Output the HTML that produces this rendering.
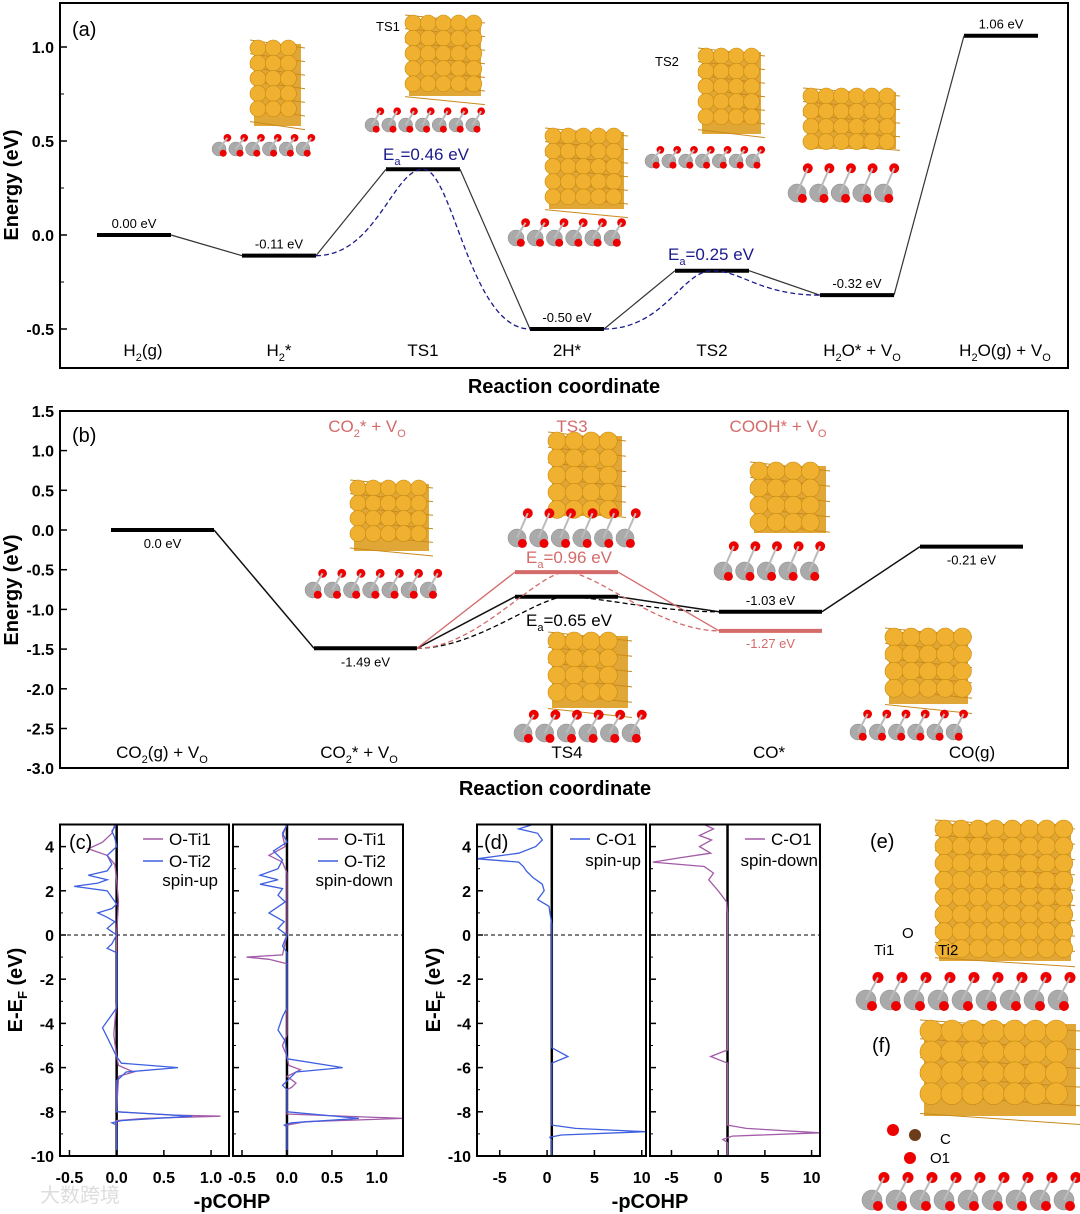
<!DOCTYPE html>
<html><head><meta charset="utf-8">
<style>
body{margin:0;background:#fff;}
svg{display:block;font-family:"Liberation Sans",Arial,sans-serif;}
.tk{font-size:16px;font-weight:bold;fill:#000;}
.lab{font-size:17px;fill:#000;}
.lv{font-size:13px;fill:#000;}
</style></head>
<body>
<svg id="fig" width="1080" height="1214" viewBox="0 0 1080 1214" xmlns="http://www.w3.org/2000/svg">
<g id="mol"></g>
<g id="pa"></g>
<g id="pb"></g>
<g id="pc"></g>
<text x="40" y="1202" font-size="20" fill="#ddd">大数跨境</text>
</svg>
<script>
const NS="http://www.w3.org/2000/svg";
function el(p,t,a,txt){const e=document.createElementNS(NS,t);for(const k in a)e.setAttribute(k,a[k]);if(txt!==undefined)e.textContent=txt;p.appendChild(e);return e;}

// ---------- Panel (a) data ----------
const aCats=["H2(g)","H2*","TS1","2H*","TS2","H2O* + VO","H2O(g) + VO"];
const aEnergies=[0.00,-0.11,0.35,-0.50,-0.19,-0.32,1.06];
const aLabels=["0.00 eV","-0.11 eV","","-0.50 eV","","-0.32 eV","1.06 eV"];
const aTicks=[1.0,0.5,0.0,-0.5];
// ---------- Panel (b) data ----------
const bCats=["CO2(g) + VO","CO2* + VO","TS4","CO*","CO(g)"];
const bEnergies=[0.0,-1.49,-0.84,-1.03,-0.21];
const bRedEnergies=[null,null,-0.53,-1.27,null];
const bLabels=["0.0 eV","-1.49 eV","","-1.03 eV","-0.21 eV"];
const bTicks=[1.5,1.0,0.5,0.0,-0.5,-1.0,-1.5,-2.0,-2.5,-3.0];
// ---------- Panel (c)/(d) COHP data [energy, -pCOHP] ----------
const cTicksY=[4,2,0,-2,-4,-6,-8,-10];
const c1Ti1=[[5,-0.02],[4.6,-0.05],[4.2,-0.15],[3.9,-0.3],[3.6,-0.1],[3.2,-0.02],[2.5,0],[1.5,0.02],[0,0],[-3,0],[-4.5,-0.03],[-5.5,0],[-5.9,0.02],[-6.2,0.18],[-6.4,0.02],[-8.0,0],[-8.15,0.6],[-8.2,1.1],[-8.3,0.3],[-8.4,0],[-10,0]];
const c1Ti2=[[5,0],[4.7,-0.05],[4.4,-0.02],[4,0],[3.6,-0.1],[3.2,-0.05],[2.9,-0.1],[2.7,-0.3],[2.5,-0.1],[2.35,-0.2],[2.2,-0.45],[2.0,-0.1],[1.7,-0.05],[1.4,0],[1.2,-0.05],[1.0,-0.2],[0.8,-0.1],[0.6,-0.02],[0.3,-0.1],[0,0],[-0.4,-0.05],[-0.6,-0.1],[-0.8,0],[-3.3,0],[-3.6,-0.05],[-4.2,-0.15],[-4.8,-0.08],[-5.5,0],[-5.8,0.05],[-6.0,0.65],[-6.2,0.1],[-6.6,0],[-8.0,0],[-8.2,0.8],[-8.4,0.05],[-8.5,-0.05],[-8.6,0],[-10,0]];
const c2Ti1=[[5,0],[4.5,-0.05],[4,-0.02],[3.6,-0.2],[3.3,-0.05],[2.8,0],[1.5,0],[0,0],[-0.9,-0.05],[-1.0,-0.45],[-1.1,-0.2],[-1.3,0],[-4.5,0],[-5.0,-0.05],[-5.5,0],[-5.9,0.02],[-6.1,0.15],[-6.4,0],[-6.7,0.1],[-6.9,0.05],[-7.0,0],[-8.1,0],[-8.3,1.29],[-8.45,0.2],[-8.6,0],[-10,0]];
const c2Ti2=[[5,0],[4.6,-0.05],[4.2,0],[3.8,-0.15],[3.4,-0.05],[3.0,-0.1],[2.7,-0.3],[2.5,-0.1],[2.3,-0.3],[2.1,-0.05],[1.8,-0.1],[1.5,-0.02],[1.0,-0.2],[0.6,-0.03],[0.3,-0.1],[0,0],[-0.5,-0.05],[-0.8,0],[-3.3,0],[-3.7,-0.05],[-4.3,-0.1],[-4.8,-0.02],[-5.6,0],[-6.0,0.62],[-6.2,0.1],[-6.6,0],[-6.8,-0.05],[-7.0,0],[-8.0,0],[-8.3,0.8],[-8.5,0.05],[-8.6,-0.03],[-8.7,0],[-10,0]];
const d1CO=[[5,-1.5],[4.8,-3],[4.6,-1],[4.3,-0.5],[4.0,-1.2],[3.7,-3],[3.45,-7.4],[3.3,-3],[3.1,-2.5],[2.9,-2.2],[2.6,-1.5],[2.3,-0.5],[2.0,-0.3],[1.6,-1],[1.3,0.2],[1.0,0.3],[0.5,0.5],[-5.1,0.5],[-5.5,2.2],[-5.8,0.5],[-8.6,0.5],[-8.75,3],[-8.9,10.4],[-9.05,1.5],[-9.15,0.3],[-9.3,0.5],[-10,0.5]];
const d2CO=[[5,-1.5],[4.8,-0.5],[4.5,-2],[4.3,-0.7],[4.0,-2],[3.7,-0.8],[3.5,-4],[3.3,-7],[3.1,-1.5],[2.8,-0.5],[2.5,-1.0],[2.0,0],[1.5,0.9],[1.0,1],[-5.2,1],[-5.5,-0.8],[-5.8,1],[-8.6,1],[-8.75,3],[-8.95,10.9],[-9.1,1.5],[-9.25,0.5],[-9.4,1],[-10,1]];

// ---------- Panel (a) ----------
const pa=document.getElementById('pa');
const aY=v=>235-188*v;
const aX0=[97,242,386,530,675,820,964], aW=74;
el(pa,'rect',{x:60,y:3,width:1008,height:365,fill:'none',stroke:'#000','stroke-width':2,});
aTicks.forEach(t=>{el(pa,'line',{x1:60,x2:67,y1:aY(t),y2:aY(t),stroke:'#000','stroke-width':1.5});
 el(pa,'text',{x:54,y:aY(t)+6,'text-anchor':'end',class:'tk',},t.toFixed(1));});
[0.75,0.25,-0.25].forEach(t=>el(pa,'line',{x1:60,x2:64,y1:aY(t),y2:aY(t),stroke:'#000'}));
el(pa,'text',{x:18,y:185,transform:'rotate(-90 18 185)','text-anchor':'middle','font-size':20,'font-weight':'bold',},'Energy (eV)');
el(pa,'text',{x:564,y:393,'text-anchor':'middle','font-size':20,'font-weight':'bold',},'Reaction coordinate');
el(pa,'text',{x:72,y:36,'font-size':20,},'(a)');
for(let i=0;i<aEnergies.length;i++){
 const y=aY(aEnergies[i]);
 const b=el(pa,'line',{x1:aX0[i],x2:aX0[i]+aW,y1:y,y2:y,stroke:'#000','stroke-width':4});
 
 
 if(i>0){el(pa,'line',{x1:aX0[i-1]+aW,y1:aY(aEnergies[i-1]),x2:aX0[i],y2:y,stroke:'#333','stroke-width':1.2});}
 if(aLabels[i]){const t=el(pa,'text',{x:aX0[i]+aW/2,y:y-7,'text-anchor':'middle',class:'lv'},aLabels[i]);
  
  }
}
function dashCurve(g,x1,y1,x2,y2,x3,y3,col){
 el(g,'path',{d:`M${x1},${y1} C${x1+60},${y1} ${x2-30},${y2} ${x2},${y2} C${x2+30},${y2} ${x3-60},${y3} ${x3},${y3}`,fill:'none',stroke:col,'stroke-width':1.3,'stroke-dasharray':'5,3'});
}
dashCurve(pa,aX0[1]+aW,aY(aEnergies[1]),aX0[2]+aW/2,aY(aEnergies[2]),aX0[3],aY(aEnergies[3]),'#1a1a8c');
dashCurve(pa,aX0[3]+aW,aY(aEnergies[3]),aX0[4]+aW/2,aY(aEnergies[4]),aX0[5],aY(aEnergies[5]),'#1a1a8c');
function eaText(g,x,y,val,col,size){const t=el(g,'text',{x:x,y:y,fill:col,'font-size':size,'text-anchor':'middle'});
 t.innerHTML=`E<tspan font-size="${size*0.65}" dy="5">a</tspan><tspan dy="-5">=${val} eV</tspan>`;return t;}
eaText(pa,426,160,'0.46','#1a1a8c',17);
eaText(pa,711,260,'0.25','#1a1a8c',17);
const aCatHTML=['H<tspan font-size="11" dy="5">2</tspan><tspan dy="-5">(g)</tspan>','H<tspan font-size="11" dy="5">2</tspan><tspan dy="-5">*</tspan>','TS1','2H*','TS2','H<tspan font-size="11" dy="5">2</tspan><tspan dy="-5">O* + V</tspan><tspan font-size="11" dy="5">O</tspan>','H<tspan font-size="11" dy="5">2</tspan><tspan dy="-5">O(g) + V</tspan><tspan font-size="11" dy="5">O</tspan>'];
const aCatX=[143,279,423,567,712,862,1005];
aCats.forEach((c,i)=>{const t=el(pa,'text',{x:aCatX[i],y:356,'text-anchor':'middle',class:'lab'});t.innerHTML=aCatHTML[i];
 });
el(pa,'text',{x:376,y:31,'font-size':13},'TS1');
el(pa,'text',{x:655,y:66,'font-size':13},'TS2');

// ---------- Panel (b) ----------
const pb=document.getElementById('pb');
const bY=v=>530-79.4*v;
const bX0=[111,314,515,719,920], bW=103;
el(pb,'rect',{x:60,y:411,width:1008,height:357,fill:'none',stroke:'#000','stroke-width':2,});
bTicks.forEach(t=>{el(pb,'line',{x1:60,x2:67,y1:bY(t),y2:bY(t),stroke:'#000','stroke-width':1.5});
 el(pb,'text',{x:54,y:bY(t)+6,'text-anchor':'end',class:'tk',},t.toFixed(1));});
el(pb,'text',{x:18,y:590,transform:'rotate(-90 18 590)','text-anchor':'middle','font-size':20,'font-weight':'bold',},'Energy (eV)');
el(pb,'text',{x:555,y:795,'text-anchor':'middle','font-size':20,'font-weight':'bold',},'Reaction coordinate');
el(pb,'text',{x:72,y:442,'font-size':20,},'(b)');
const red='#d46a6a';
for(let i=0;i<bEnergies.length;i++){
 const y=bY(bEnergies[i]);
 if(i>0) el(pb,'line',{x1:bX0[i-1]+bW,y1:bY(bEnergies[i-1]),x2:bX0[i],y2:y,stroke:'#111','stroke-width':1.5});
 if(bRedEnergies[i]!==null){
  const ry=bY(bRedEnergies[i]);
  const pr=bRedEnergies[i-1]!==null?bRedEnergies[i-1]:bEnergies[i-1];
  el(pb,'line',{x1:bX0[i-1]+bW,y1:bY(pr),x2:bX0[i],y2:ry,stroke:red,'stroke-width':1.3});
  const rb=el(pb,'line',{x1:bX0[i],x2:bX0[i]+bW,y1:ry,y2:ry,stroke:red,'stroke-width':4});
  
  
 }
 const b=el(pb,'line',{x1:bX0[i],x2:bX0[i]+bW,y1:y,y2:y,stroke:'#000','stroke-width':4});
 
 
 if(bLabels[i]){const t=el(pb,'text',{x:bX0[i]+bW/2,y:y+(i===3?-7:18),'text-anchor':'middle',class:'lv'},bLabels[i]);
  }
}
el(pb,'line',{x1:bX0[3]+bW,y1:bY(bRedEnergies[3]),x2:bX0[4],y2:bY(bEnergies[4]),stroke:'none'});
el(pb,'text',{x:bX0[3]+bW/2,y:bY(bRedEnergies[3])+17,'text-anchor':'middle',class:'lv',fill:red,style:'fill:'+red},'-1.27 eV');
dashCurve(pb,bX0[1]+bW,bY(bEnergies[1]),bX0[2]+bW/2,bY(bEnergies[2]),bX0[3],bY(bEnergies[3]),'#000');
dashCurve(pb,bX0[1]+bW,bY(bEnergies[1]),bX0[2]+bW/2,bY(bRedEnergies[2]),bX0[3],bY(bRedEnergies[3]),red);
eaText(pb,569,563,'0.96',red,17);
eaText(pb,569,626,'0.65','#000',17);
const bCatHTML=['CO<tspan font-size="11" dy="5">2</tspan><tspan dy="-5">(g) + V</tspan><tspan font-size="11" dy="5">O</tspan>','CO<tspan font-size="11" dy="5">2</tspan><tspan dy="-5">* + V</tspan><tspan font-size="11" dy="5">O</tspan>','TS4','CO*','CO(g)'];
const bCatX=[162,359,567,769,972];
bCats.forEach((c,i)=>{const t=el(pb,'text',{x:bCatX[i],y:758,'text-anchor':'middle',class:'lab'});t.innerHTML=bCatHTML[i];
 });
let t1=el(pb,'text',{x:367,y:432,'text-anchor':'middle','font-size':17,fill:red});t1.innerHTML='CO<tspan font-size="11" dy="5">2</tspan><tspan dy="-5">* + V</tspan><tspan font-size="11" dy="5">O</tspan>';
el(pb,'text',{x:572,y:432,'text-anchor':'middle','font-size':17,fill:red},'TS3');
let t2=el(pb,'text',{x:778,y:432,'text-anchor':'middle','font-size':17,fill:red});t2.innerHTML='COOH* + V<tspan font-size="11" dy="5">O</tspan>';

// ---------- COHP panels ----------
const pc=document.getElementById('pc');
const eY=e=>935-22.1*e;
function cohp(x0,x1,vmin,vmax,series,cols,ticksX,fmt,name,baseline){
 const sx=v=>x0+(v-vmin)/(vmax-vmin)*(x1-x0);
 const g=el(pc,'g',{});
 
 
 el(g,'line',{x1:x0,x2:x1,y1:eY(0),y2:eY(0),stroke:'#000','stroke-dasharray':'4,3','stroke-width':1});
 el(g,'line',{x1:sx(baseline),x2:sx(baseline),y1:eY(5),y2:eY(-10),stroke:'#000','stroke-width':2.5});
 series.forEach((s,k)=>{
  const p=el(g,'polyline',{points:s.map(d=>sx(d[1]).toFixed(1)+','+eY(d[0]).toFixed(1)).join(' '),fill:'none',stroke:cols[k],'stroke-width':1.3});
  
  
 });
 ticksX.forEach(t=>{el(g,'line',{x1:sx(t),x2:sx(t),y1:eY(-10),y2:eY(-10)-6,stroke:'#000','stroke-width':1.5});
  el(g,'text',{x:sx(t),y:1183,'text-anchor':'middle',class:'tk','font-size':17},fmt(t));});
 cTicksY.forEach(t=>el(g,'line',{x1:x0,x2:x0+6,y1:eY(t),y2:eY(t),stroke:'#000','stroke-width':1.5}));
 [3,1,-1,-3,-5,-7,-9].forEach(t=>el(g,'line',{x1:x0,x2:x0+3,y1:eY(t),y2:eY(t),stroke:'#000'}));
 el(g,'rect',{x:x0,y:eY(5),width:x1-x0,height:eY(-10)-eY(5),fill:'none',stroke:'#000','stroke-width':2});
 return g;
}
const purple='#a35aa8', blue='#3d5fe0';
cohp(60,229,-0.6,1.19,[c1Ti1,c1Ti2],[purple,blue],[-0.5,0,0.5,1.0],t=>t.toFixed(1),'cohp-c-spin-up',0);
cohp(233,403,-0.6,1.29,[c2Ti1,c2Ti2],[purple,blue],[-0.5,0,0.5,1.0],t=>t.toFixed(1),'cohp-c-spin-down',0);
cohp(477,646,-7.4,10.45,[d1CO],[blue],[-5,0,5,10],t=>String(t),'cohp-d-spin-up',0.5);
cohp(650,820,-7.3,10.9,[d2CO],[purple],[-5,0,5,10],t=>String(t),'cohp-d-spin-down',1);
cTicksY.forEach(t=>{el(pc,'text',{x:54,y:eY(t)+6,'text-anchor':'end',class:'tk','font-size':17},String(t));
 el(pc,'text',{x:471,y:eY(t)+6,'text-anchor':'end',class:'tk','font-size':17},String(t));});
[[22,990],[440,990]].forEach(p=>{const t=el(pc,'text',{x:p[0],y:p[1],transform:`rotate(-90 ${p[0]} ${p[1]})`,'text-anchor':'middle','font-size':20,'font-weight':'bold'});
 t.innerHTML='E-E<tspan font-size="13" dy="5">F</tspan><tspan dy="-5"> (eV)</tspan>';});
el(pc,'text',{x:232,y:1208,'text-anchor':'middle','font-size':20,'font-weight':'bold'},'-pCOHP');
el(pc,'text',{x:650,y:1208,'text-anchor':'middle','font-size':20,'font-weight':'bold'},'-pCOHP');
el(pc,'text',{x:69,y:849,'font-size':20},'(c)');
el(pc,'text',{x:484,y:849,'font-size':20},'(d)');
function leg(x,y,col,txt){el(pc,'line',{x1:x,x2:x+20,y1:y-6,y2:y-6,stroke:col,'stroke-width':1.5});el(pc,'text',{x:x+26,y:y,'font-size':17},txt);}
leg(143,845,purple,'O-Ti1');leg(143,867,blue,'O-Ti2');el(pc,'text',{x:218,y:886,'text-anchor':'end','font-size':17},'spin-up');
leg(318,845,purple,'O-Ti1');leg(318,867,blue,'O-Ti2');el(pc,'text',{x:393,y:886,'text-anchor':'end','font-size':17},'spin-down');
leg(570,845,blue,'C-O1');el(pc,'text',{x:641,y:866,'text-anchor':'end','font-size':17},'spin-up');
leg(745,845,purple,'C-O1');el(pc,'text',{x:818,y:866,'text-anchor':'end','font-size':17},'spin-down');
el(pc,'text',{x:870,y:848,'font-size':20},'(e)');
el(pc,'text',{x:872,y:1052,'font-size':20},'(f)');

// ---------- molecule illustrations (decorative) ----------
const mol=document.getElementById('mol');
function cluster(x,y,w,h,r){const g=el(mol,'g',{});
 el(g,'rect',{x:x+4,y:y+4,width:w-8,height:h-8,fill:'#e0a636'});
 for(let j=0;j<h;j+=r*1.7)el(g,'line',{x1:x,x2:x+w,y1:y+j,y2:y+j+r,stroke:'#c98a1c','stroke-width':1});
 for(let cy=y+r;cy<=y+h-r+1;cy+=r*1.9)for(let cx=x+r;cx<=x+w-r+1;cx+=r*1.9)el(g,'circle',{cx:cx,cy:cy,r:r,fill:'#f0b030',stroke:'#c88a10','stroke-width':0.6});}
function slab(x,y,w,h,r){const g=el(mol,'g',{});
 for(let cx=x+r;cx<x+w;cx+=r*2.4){el(g,'circle',{cx:cx,cy:y+h-r,r:r,fill:'#aaa',stroke:'#888','stroke-width':0.5});
  el(g,'circle',{cx:cx+r*1.2,cy:y+h*0.35,r:r*0.55,fill:'#e00'});el(g,'circle',{cx:cx+r*0.6,cy:y+h-r*0.4,r:r*0.5,fill:'#e00'});
  el(g,'line',{x1:cx,y1:y+h-r,x2:cx+r*1.2,y2:y+h*0.35,stroke:'#bbb','stroke-width':2});}}
cluster(250,40,55,90,8);slab(212,128,93,28,7);
cluster(405,15,80,85,8);slab(365,100,120,32,7);
cluster(545,128,83,85,8);slab(508,210,120,36,8);
cluster(698,48,67,90,8);slab(645,140,120,28,7);
cluster(803,88,97,65,8);slab(788,150,112,52,9);
cluster(350,480,83,75,8);slab(305,560,128,38,8);
cluster(548,432,78,88,9);slab(508,495,118,52,9);
cluster(548,632,84,80,9);slab(514,700,118,42,9);
cluster(750,462,80,75,9);slab(714,528,116,52,9);
cluster(885,628,87,80,9);slab(850,700,122,40,8);
cluster(935,820,140,145,9);slab(856,960,224,50,10);
cluster(920,1020,160,100,11);slab(862,1160,218,50,10);
el(mol,'circle',{cx:893,cy:1130,r:6,fill:'#e00'});el(mol,'circle',{cx:915,cy:1135,r:6,fill:'#6b3d1a'});el(mol,'circle',{cx:910,cy:1158,r:6,fill:'#e00'});
el(pc,'text',{x:940,y:1144,'font-size':15},'C');el(pc,'text',{x:930,y:1163,'font-size':15},'O1');
el(pc,'text',{x:874,y:955,'font-size':15},'Ti1');el(pc,'text',{x:902,y:938,'font-size':15},'O');el(pc,'text',{x:938,y:955,'font-size':15},'Ti2');
</script>
</body></html>
